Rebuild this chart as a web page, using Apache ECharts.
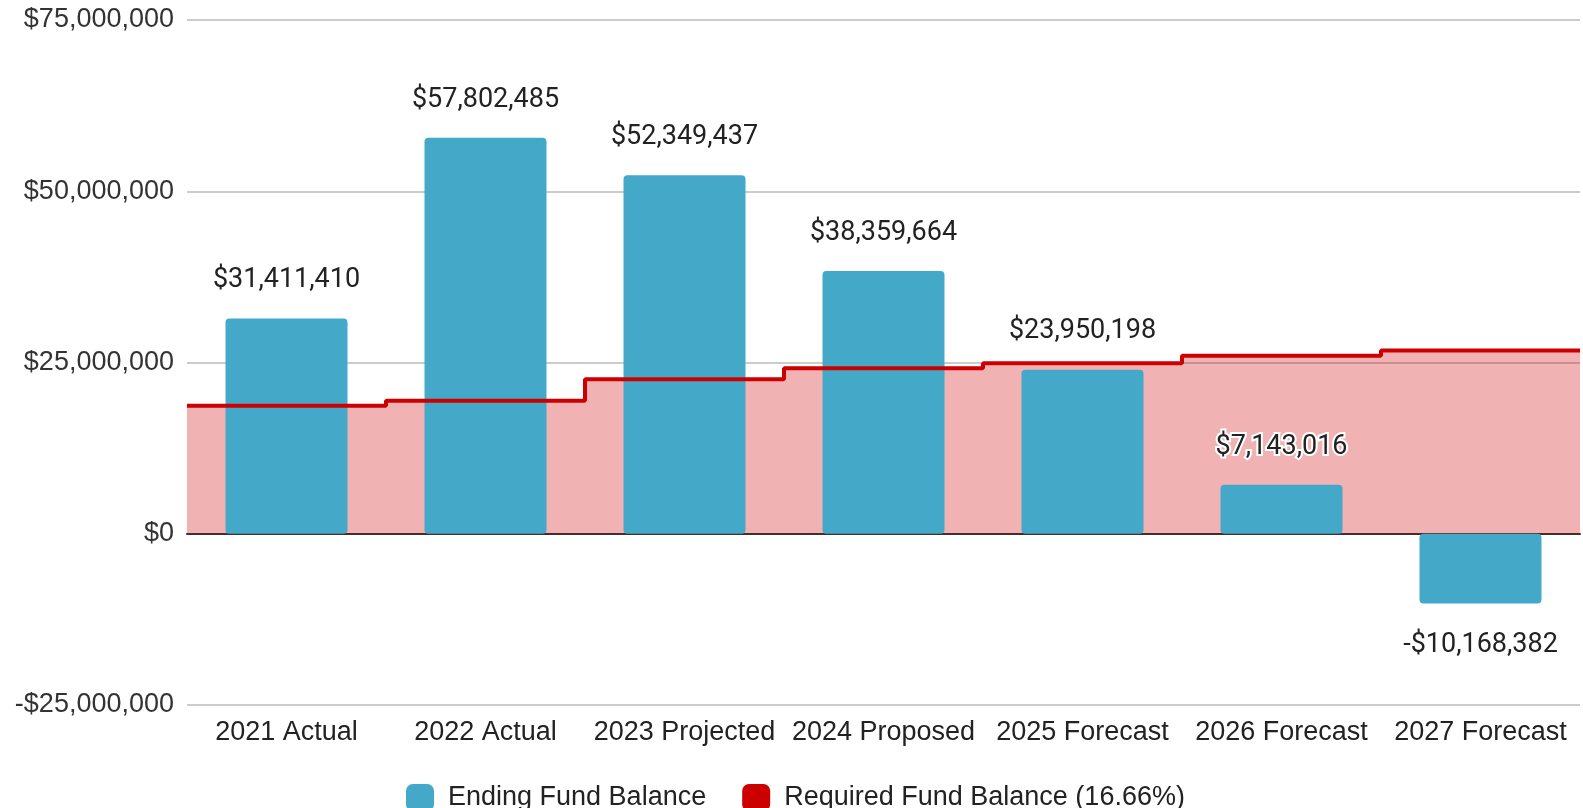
<!DOCTYPE html>
<html><head><meta charset="utf-8">
<script src="https://cdn.jsdelivr.net/npm/echarts@6/dist/echarts.min.js"></script>
<style>html,body{margin:0;padding:0;background:#fff}#c{width:1583px;height:808px}</style>
</head><body><div id="c"></div>
<script>
const categories = ['2021 Actual','2022 Actual','2023 Projected','2024 Proposed','2025 Forecast','2026 Forecast','2027 Forecast'];
const endingBalance = [31411410, 57802485, 52349437, 38359664, 23950198, 7143016, -10168382];
const requiredBalance = [18700000, 19400000, 22550000, 24150000, 24900000, 26000000, 26750000];
const yTicks = [-25000000, 0, 25000000, 50000000, 75000000];
const seriesNames = ['Ending Fund Balance', 'Required Fund Balance (16.66%)'];

function money(v){
  const s = Math.abs(v).toLocaleString('en-US');
  return (v < 0 ? '-$' : '$') + s;
}
// step points over category boundaries 0..n
const stepData = requiredBalance.map((v,i)=>[i, v]);
stepData.push([requiredBalance.length, requiredBalance[requiredBalance.length-1]]);

const barData = endingBalance.map(v => ({
  value: v,
  label: v < 0 ? { position: 'bottom', distance: 26 } : { position: 'top', distance: 22 }
}));

const chart = echarts.init(document.getElementById('c'), null, {renderer:'canvas'});
chart.setOption({
  animation: false,
  grid: { left: 187, right: 3, top: 20, bottom: 103, containLabel: false },
  legend: {
    left: 401, top: 779,
    itemWidth: 28, itemHeight: 27, itemGap: 36,
    textStyle: { fontFamily: 'Liberation Sans, Arial', fontSize: 27, color: '#222', padding: [0,0,0,9] },
    data: [
      { name: seriesNames[0], icon: 'roundRect', itemStyle: { color: '#44a8c8' } },
      { name: seriesNames[1], icon: 'roundRect', itemStyle: { color: '#cc0000' } }
    ]
  },
  xAxis: [
    {
      type: 'category', data: categories, position: 'bottom',
      axisLine: { show: false, onZero: false }, axisTick: { show: false },
      axisLabel: { interval: 0, margin: 14, fontFamily: 'Liberation Sans, Arial', fontSize: 27, color: '#222' }
    },
    {
      type: 'value', min: 0, max: categories.length, position: 'bottom',
      axisLabel: { show: false }, axisTick: { show: false }, splitLine: { show: false },
      axisLine: { show: true, onZero: true, lineStyle: { color: '#333', width: 2 } }
    }
  ],
  yAxis: {
    type: 'value', min: yTicks[0], max: yTicks[yTicks.length-1], interval: 25000000,
    axisLine: { show: false }, axisTick: { show: false },
    splitLine: { lineStyle: { color: '#cccccc', width: 2 } },
    axisLabel: { formatter: v => money(v), margin: 13, fontFamily: 'Liberation Sans, Arial', fontSize: 27, color: '#333' }
  },
  series: [
    {
      name: seriesNames[1], type: 'line', xAxisIndex: 1, step: 'end',
      data: stepData, symbol: 'none', z: 1,
      lineStyle: { width: 0 },
      areaStyle: { color: '#cc0000', opacity: 0.3 },
      itemStyle: { color: '#cc0000' }
    },
    {
      name: seriesNames[0], type: 'bar', xAxisIndex: 0, data: barData, z: 2,
      barWidth: '61.3%',
      itemStyle: { color: '#44a8c8', borderRadius: 4 },
      label: {
        show: true, formatter: p => money(p.value),
        fontFamily: 'Roboto', fontSize: 27, lineHeight: 32, color: '#222',
        textBorderColor: '#fff', textBorderWidth: 4
      }
    },
    {
      name: seriesNames[1], type: 'line', xAxisIndex: 1, step: 'end',
      data: stepData, symbol: 'none', z: 3,
      lineStyle: { width: 4, color: '#cc0000' },
      itemStyle: { color: '#cc0000' }
    }
  ]
});
</script></body></html>
